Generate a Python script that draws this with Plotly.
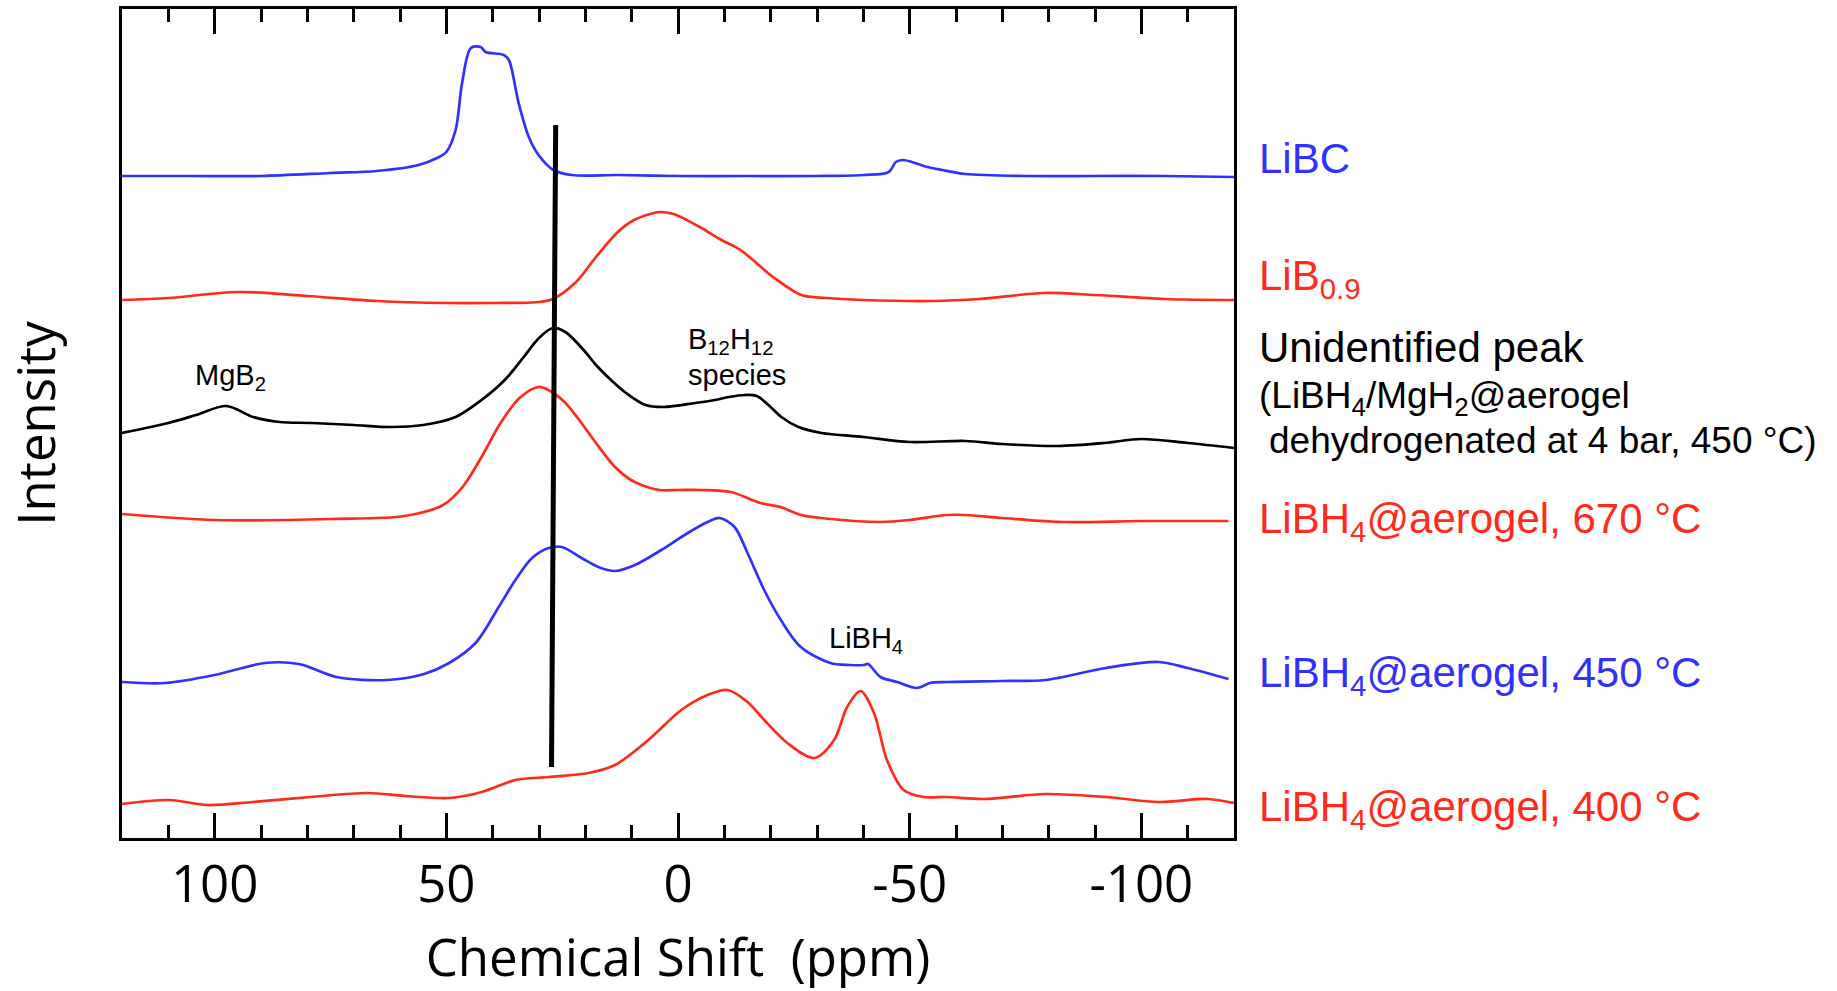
import plotly.graph_objects as go

# ---------------- data (chemical shift in ppm, stacked intensity in arbitrary units) ----------------
ppm_libc = [120, 105, 90, 75, 65, 56, 52, 50, 48, 46.6, 44.7, 42.6, 41.5, 37.6, 36.5, 34.4, 32.2, 30.1,
            26.9, 22.9, 12.9, 0, -15, -30, -40, -45.5, -47, -48.5, -50.5, -53, -57, -62, -75, -90, -105, -120]
int_libc = [661, 661, 661, 664, 666, 672, 679, 685, 707, 754, 789, 790, 785, 782, 777, 734, 700, 682,
            667, 662, 662, 661, 661, 661, 662, 665, 675, 677, 675, 671, 667, 663, 661, 661, 661, 660]

ppm_lib09 = [120, 110, 95, 80, 65, 50, 40, 30, 27, 22, 17.7, 13, 9.5, 6, 4, 1, -4.7, -9, -13.5, -20.5,
             -26.6, -32, -40, -55, -65, -79, -90, -105, -120]
int_lib09 = [537, 539, 545, 541, 536, 534, 534, 535, 538, 555, 580, 605, 617, 623, 625, 623, 610, 598, 587, 560,
             542, 539, 537, 536, 538, 544, 542, 538, 537]

ppm_unid = [120, 110, 104, 97.5, 91.7, 86, 79, 70, 62, 55, 48, 42.4, 37.4, 33.3, 30, 27, 24.3, 20, 17.7, 14,
            11.2, 7, 3, -3.7, -8, -11, -14.4, -17, -20, -22.3, -26, -31, -40, -50, -62, -70, -82, -92, -100,
            -110, -120]
int_unid = [404, 414, 422, 431, 420, 415, 414, 412, 410, 412, 420, 437, 457, 480, 499, 509, 505, 485, 472, 455,
            444, 432, 430, 434, 437, 440, 442, 441, 430, 420, 410, 404, 400, 395, 396, 393, 391, 394, 398,
            394, 389]

ppm_670 = [120, 100, 75, 59, 50.7, 46.5, 42.4, 38.3, 34.2, 30.1, 27.6, 24.5, 21.8, 17.7, 13.6, 10.5, 7.9, 4,
           0, -5, -11.4, -17.8, -22.1, -26.6, -32.9, -43.7, -50, -58, -62, -70, -83.6, -100, -118.8]
int_670 = [323, 317, 318, 321, 332, 350, 380, 414, 439, 450, 446, 435, 420, 394, 370, 358, 352, 347,
           347, 347, 345, 334, 330, 322, 318, 315, 317, 322, 322, 319, 315, 316, 316]

ppm_450 = [120, 110.6, 100, 89.2, 81.8, 73.7, 62.9, 54.8, 49.4, 43.7, 38.7, 35.1, 31.5, 27.9, 25.1, 20.8,
           17.2, 13.6, 9.3, 3.6, -2.1, -6.4, -9, -12.2, -15, -18.6, -22.2, -26.5, -32.9, -37, -40.1, -41,
           -43.7, -47.3, -51.6, -54.4, -58, -70, -79.3, -92.4, -103.8, -110, -118.8]
int_450 = [155, 154, 162, 174, 173, 160, 157, 163, 174, 194, 230, 257, 279, 289, 290, 279,
           270, 266, 272, 287, 304, 315, 319, 310, 284, 247, 217, 190, 174, 172, 172, 173,
           160, 155, 149, 154, 155, 156, 157, 169, 175, 169, 158]

ppm_400 = [120, 109.8, 101.6, 91.7, 79.4, 67, 58.9, 49.4, 42.3, 35.1, 27.9, 19.3, 13.6, 6.4, -0.7, -6.4,
           -10.7, -15, -18.6, -23.6, -29.4, -33.7, -36.5, -39.4, -42.3, -45.1, -48.7, -53, -58, -66.1,
           -79.3, -92.4, -103.8, -114.3, -120]
int_400 = [33, 37, 32, 35, 40, 44, 41, 39, 45, 57, 60, 64, 72, 97, 127, 142,
           147, 135, 117, 94, 79, 97, 130, 146, 124, 77, 47, 40, 40, 38,
           43, 40, 35, 38, 34]

# guide line through the unidentified peak
guide_ppm = [26.4, 27.3]
guide_int = [712, 70]

tick_vals = [100, 50, 0, -50, -100]
tick_text = ["100", "50", "0", "-50", "-100"]

BLUE = "#3030FF"
RED = "#FF2A1A"

series = [
    ("LiBC", ppm_libc, int_libc, BLUE),
    ("LiB0.9", ppm_lib09, int_lib09, RED),
    ("Unidentified peak", ppm_unid, int_unid, "black"),
    ("LiBH4@aerogel, 670 °C", ppm_670, int_670, RED),
    ("LiBH4@aerogel, 450 °C", ppm_450, int_450, BLUE),
    ("LiBH4@aerogel, 400 °C", ppm_400, int_400, RED),
]

fig = go.Figure()
for name, x, y, c in series:
    fig.add_trace(go.Scatter(x=x, y=y, mode="lines", name=name,
                             line=dict(color=c, width=2.7, shape="spline", smoothing=0.9),
                             hoverinfo="skip", showlegend=False))
fig.add_trace(go.Scatter(x=guide_ppm, y=guide_int, mode="lines",
                         line=dict(color="black", width=5), hoverinfo="skip", showlegend=False))

AXFONT = dict(family="Open Sans", size=51, color="black")
LBL = "Liberation Sans, Arial, sans-serif"

fig.update_layout(
    width=1837, height=991,
    margin=dict(l=122, r=603, t=9, b=153),
    paper_bgcolor="white", plot_bgcolor="white",
    showlegend=False,
)
fig.update_xaxes(
    range=[120, -120], showline=True, linecolor="black", linewidth=3, mirror="ticks",
    ticks="inside", ticklen=25, tickwidth=3, tickcolor="black",
    tickmode="array", tickvals=tick_vals, ticktext=tick_text,
    tickfont=AXFONT, ticklabelstandoff=0, automargin=False,
    minor=dict(tickmode="linear", tick0=0, dtick=10, ticks="inside", ticklen=13,
               tickwidth=2.5, tickcolor="black", showgrid=False),
    showgrid=False, zeroline=False,
    title=dict(text="Chemical Shift\u00a0 (ppm)", font=AXFONT, standoff=37),
)
fig.update_yaxes(
    range=[-1, 828], showline=True, linecolor="black", linewidth=3, mirror=True,
    showticklabels=False, ticks="", showgrid=False, zeroline=False, automargin=False,
    title=dict(text="Intensity", font=AXFONT, standoff=55),
)

# right-hand labels: (text, colour, size, paper x, y)
right_labels = [
    ("LiBC", BLUE, 42, 1.0215, 679),
    ("LiB<sub>0.9</sub>", RED, 42, 1.0215, 559),
    ("Unidentified peak", "black", 42, 1.0215, 490),
    ("(LiBH<sub>4</sub>/MgH<sub>2</sub>@aerogel", "black", 37, 1.0215, 439),
    ("dehydrogenated at 4 bar, 450 °C)", "black", 37, 1.0310, 397),
    ("LiBH<sub>4</sub>@aerogel, 670 °C", RED, 42, 1.0215, 316),
    ("LiBH<sub>4</sub>@aerogel, 450 °C", BLUE, 42, 1.0215, 162),
    ("LiBH<sub>4</sub>@aerogel, 400 °C", RED, 42, 1.0215, 28),
]
for text, col, size, px, py in right_labels:
    fig.add_annotation(text=text, xref="paper", yref="y", x=px, y=py, xanchor="left", yanchor="middle",
                       showarrow=False, borderpad=0, font=dict(family=LBL, size=size, color=col))

# in-plot peak labels: (text, ppm, y, anchor)
peak_labels = [
    ("MgB<sub>2</sub>", 96.6, 460, "center"),
    ("B<sub>12</sub>H<sub>12</sub>", -2.0, 496, "left"),
    ("species", -2.0, 462, "left"),
    ("LiBH<sub>4</sub>", -32.4, 197, "left"),
]
for text, px, py, anc in peak_labels:
    fig.add_annotation(text=text, xref="x", yref="y", x=px, y=py, xanchor=anc, yanchor="middle",
                       showarrow=False, borderpad=0, font=dict(family=LBL, size=29, color="black"))

fig.write_html("out.html")
